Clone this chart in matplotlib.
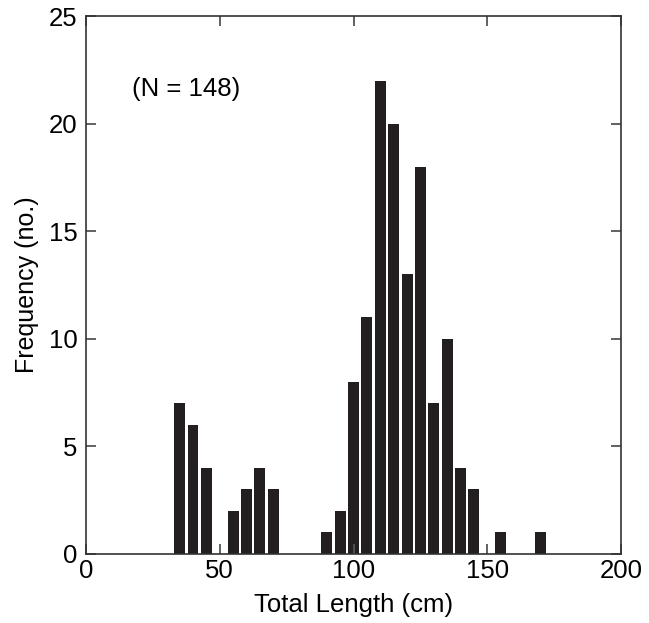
import matplotlib.pyplot as plt

plt.rcParams['font.family'] = ['Liberation Sans', 'DejaVu Sans']

# length classes (cm) and counts
lengths = [35, 40, 45, 55, 60, 65, 70, 90, 95, 100, 105, 110, 115, 120,
           125, 130, 135, 140, 145, 155, 170]
counts = [7, 6, 4, 2, 3, 4, 3, 1, 2, 8, 11, 22, 20, 13,
          18, 7, 10, 4, 3, 1, 1]

fig = plt.figure(figsize=(6.49, 6.23), dpi=100)
ax = fig.add_axes([0.1325, 0.111, 0.8245, 0.863])

ax.bar(lengths, counts, width=4.1, color='#231f20', edgecolor='none')

ax.set_xlim(0, 200)
ax.set_ylim(0, 25)
ax.set_xticks([0, 50, 100, 150, 200])
ax.set_yticks([0, 5, 10, 15, 20, 25])
ax.tick_params(direction='in', top=True, right=True, length=7,
               width=1.3, color='#555555', labelsize=18.5)
ax.tick_params(axis='x', pad=4)
ax.tick_params(axis='y', pad=6)
for s in ax.spines.values():
    s.set_color('#333333')
    s.set_linewidth(1.2)

ax.set_xlabel('Total Length (cm)', fontsize=18.5, labelpad=7)
ax.set_ylabel('Frequency (no.)', fontsize=18, labelpad=7)
ax.text(17.3, 21.6, '(N = 148)', fontsize=18.5, va='center', ha='left')

fig.savefig('out.png', dpi=100)
